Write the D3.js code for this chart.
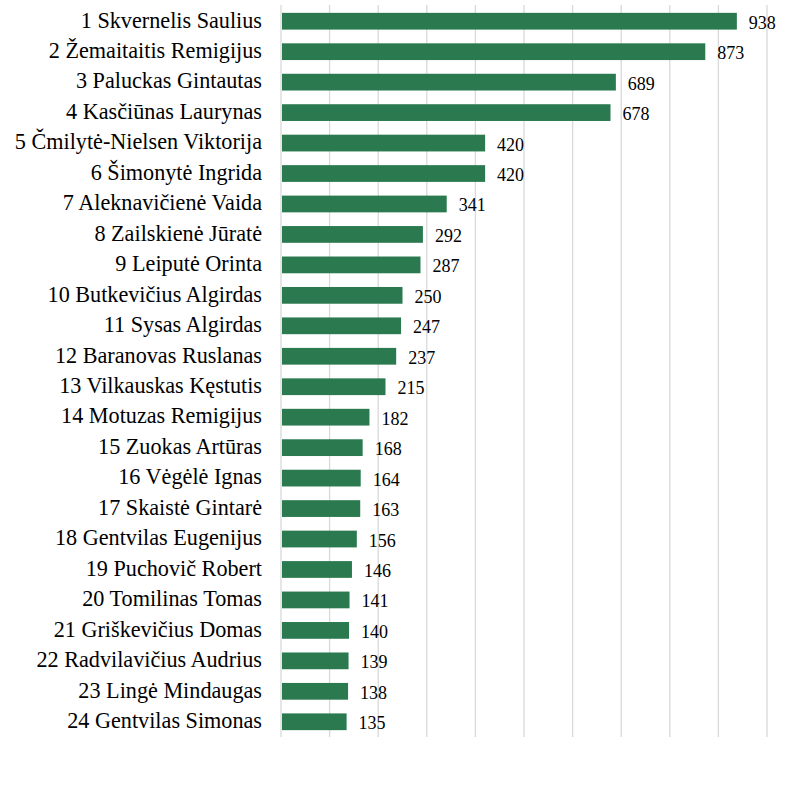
<!DOCTYPE html>
<html>
<head>
<meta charset="utf-8">
<script src="https://cdn.jsdelivr.net/npm/d3@7"></script>
<style>
  body { margin: 0; background: #fff; }
</style>
</head>
<body>
<svg id="chart" width="786" height="786"></svg>
<script>
// candidates and their values
const names = [
  "1 Skvernelis Saulius", "2 Žemaitaitis Remigijus", "3 Paluckas Gintautas",
  "4 Kasčiūnas Laurynas", "5 Čmilytė-Nielsen Viktorija", "6 Šimonytė Ingrida",
  "7 Aleknavičienė Vaida", "8 Zailskienė Jūratė", "9 Leiputė Orinta",
  "10 Butkevičius Algirdas", "11 Sysas Algirdas", "12 Baranovas Ruslanas",
  "13 Vilkauskas Kęstutis", "14 Motuzas Remigijus", "15 Zuokas Artūras",
  "16 Vėgėlė Ignas", "17 Skaistė Gintarė", "18 Gentvilas Eugenijus",
  "19 Puchovič Robert", "20 Tomilinas Tomas", "21 Griškevičius Domas",
  "22 Radvilavičius Audrius", "23 Lingė Mindaugas", "24 Gentvilas Simonas"
];
const values = [938, 873, 689, 678, 420, 420, 341, 292, 287, 250, 247, 237,
                215, 182, 168, 164, 163, 156, 146, 141, 140, 139, 138, 135];
const gridTicks = [0, 100, 200, 300, 400, 500, 600, 700, 800, 900, 1000];

const FONT = "'Liberation Serif', 'Times New Roman', Times, serif";
const margin = {top: 6, left: 281, right: 19, bottom: 49};
const svg = d3.select("#chart");
const W = 786, H = 786;

const x = d3.scaleLinear().domain([0, 1000]).range([margin.left, W - margin.right]);
const y = d3.scaleBand().domain(names).range([margin.top, H - margin.bottom]).paddingInner(0.45).paddingOuter(0.225);

// vertical gridlines
svg.append("g").selectAll("line")
  .data(gridTicks).enter().append("line")
  .attr("x1", d => x(d)).attr("x2", d => x(d))
  .attr("y1", margin.top - 1).attr("y2", H - margin.bottom)
  .attr("stroke", "#d9d9d9").attr("stroke-width", 1.3);

const data = names.map((n, i) => ({name: n, value: values[i]}));
const mid = d => y(d.name) + y.bandwidth() / 2;

// bars
svg.append("g").selectAll("rect")
  .data(data).enter().append("rect")
  .attr("x", x(0) + 1)
  .attr("y", d => y(d.name))
  .attr("width", d => x(d.value) - x(0) - 1)
  .attr("height", y.bandwidth())
  .attr("fill", "#2b7a4f");

// category labels
svg.append("g").selectAll("text")
  .data(data).enter().append("text")
  .attr("x", x(0) - 19)
  .attr("y", d => mid(d) + 6.3)
  .attr("text-anchor", "end")
  .style("font-family", FONT)
  .style("font-size", "22.2px")
  .attr("fill", "#000")
  .text(d => d.name);

// value labels
svg.append("g").selectAll("text")
  .data(data).enter().append("text")
  .attr("x", d => x(d.value) + 12)
  .attr("y", d => mid(d) + 7.5)
  .style("font-family", FONT)
  .style("font-size", "18px")
  .attr("fill", "#000")
  .text(d => d.value);
</script>
</body>
</html>
